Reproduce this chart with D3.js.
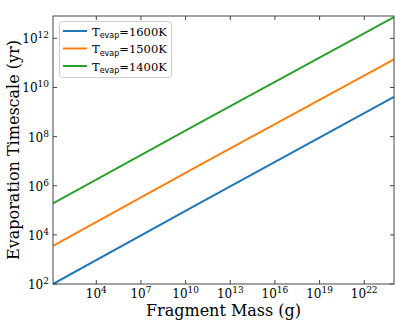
<!DOCTYPE html>
<html><head><meta charset="utf-8">
<script src="https://cdn.jsdelivr.net/npm/d3@7"></script>
<style>body{margin:0;background:#fff}svg{display:block}</style>
</head><body>
<script>
const massLog = [1.09, 11.0, 24.0];
const series = [
  {label: "1600K", color: "#1f77b4", logT: [2.0, 5.31, 9.62]},
  {label: "1500K", color: "#ff7f0e", logT: [3.55, 6.86, 11.14]},
  {label: "1400K", color: "#2ca02c", logT: [5.28, 8.58, 12.86]}
];
const xTickExp = [4, 7, 10, 13, 16, 19, 22];
const yTickExp = [2, 4, 6, 8, 10, 12];

const W = 415, H = 323;
const m = {l: 53, r: 394, t: 16, b: 284};
const svg = d3.select("body").append("svg").attr("width", W).attr("height", H);
const x = d3.scaleLog().domain([Math.pow(10, 1.09), 1e24]).range([m.l, m.r]);
const y = d3.scaleLog().domain([1e2, Math.pow(10, 12.91)]).range([m.b, m.t]);

const serif = "DejaVu Serif";
svg.append("clipPath").attr("id", "c").append("rect")
  .attr("x", m.l).attr("y", m.t).attr("width", m.r - m.l).attr("height", m.b - m.t);

const line = d3.line().x(d => x(Math.pow(10, d[0]))).y(d => y(Math.pow(10, d[1])));
series.forEach(s => {
  svg.append("path").attr("clip-path", "url(#c)")
    .datum(massLog.map((mv, i) => [mv, s.logT[i]]))
    .attr("d", line).attr("fill", "none").attr("stroke", s.color).attr("stroke-width", 2);
});

svg.append("rect").attr("x", m.l).attr("y", m.t).attr("width", m.r - m.l).attr("height", m.b - m.t)
  .attr("fill", "none").attr("stroke", "#444").attr("stroke-width", 1);

const tl = 4;
const tk = svg.append("g").attr("stroke", "#444").attr("stroke-width", 1);
xTickExp.forEach(e => {
  const px = x(Math.pow(10, e));
  tk.append("line").attr("x1", px).attr("x2", px).attr("y1", m.b).attr("y2", m.b - tl);
  tk.append("line").attr("x1", px).attr("x2", px).attr("y1", m.t).attr("y2", m.t + tl);
  const t = svg.append("text").attr("x", px).attr("y", 298).attr("text-anchor", "middle")
    .attr("font-family", serif).attr("font-size", 12).attr("fill", "#000");
  t.append("tspan").text("10");
  t.append("tspan").attr("dy", -5).attr("font-size", 9).text(e);
});
yTickExp.forEach(e => {
  const py = y(Math.pow(10, e));
  tk.append("line").attr("x1", m.l).attr("x2", m.l + tl).attr("y1", py).attr("y2", py);
  tk.append("line").attr("x1", m.r).attr("x2", m.r - tl).attr("y1", py).attr("y2", py);
  const t = svg.append("text").attr("x", 49).attr("y", py + 5).attr("text-anchor", "end")
    .attr("font-family", serif).attr("font-size", 12).attr("fill", "#000");
  t.append("tspan").text("10");
  t.append("tspan").attr("dy", -5).attr("font-size", 9).text(e);
});

svg.append("text").attr("x", (m.l + m.r) / 2).attr("y", 316).attr("text-anchor", "middle")
  .attr("font-family", serif).attr("font-size", 16).text("Fragment Mass (g)");
svg.append("text").attr("transform", `translate(19,${(m.t + m.b) / 2}) rotate(-90)`)
  .attr("text-anchor", "middle").attr("font-family", serif).attr("font-size", 16)
  .text("Evaporation Timescale (yr)");

const lg = svg.append("g");
lg.append("rect").attr("x", 59.5).attr("y", 21.5).attr("width", 112).attr("height", 56)
  .attr("rx", 3).attr("fill", "#fff").attr("stroke", "#ccc").attr("stroke-width", 1);
series.forEach((s, i) => {
  const yy = 31 + i * 17.5;
  lg.append("line").attr("x1", 63).attr("x2", 87).attr("y1", yy).attr("y2", yy)
    .attr("stroke", s.color).attr("stroke-width", 2);
  const t = lg.append("text").attr("x", 92).attr("y", yy + 4.5)
    .attr("font-family", serif).attr("font-size", 11.5).attr("fill", "#000");
  t.append("tspan").text("T");
  t.append("tspan").attr("dy", 2.5).attr("font-family", "DejaVu Sans").attr("font-size", 8).text("evap");
  t.append("tspan").attr("dy", -2.5).text("=" + s.label);
});
</script>
</body></html>
